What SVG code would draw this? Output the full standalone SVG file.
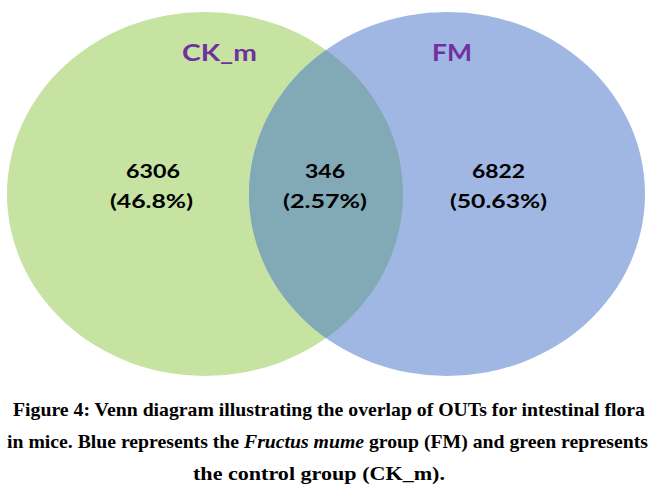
<svg xmlns="http://www.w3.org/2000/svg" width="655" height="491" viewBox="0 0 655 491">
<style>
.lbl{font-family:Lato,"Open Sans","Liberation Sans",sans-serif;font-weight:bold;text-anchor:middle}
.grp{fill:#7030A0;font-size:22px}
.num{fill:#000;font-size:19px}
.cap{font-family:"Liberation Serif","Times New Roman",serif;font-weight:bold;font-size:19.5px;fill:#000}
</style>
<rect width="655" height="491" fill="#fff"/>
<defs>
<clipPath id="clipG"><ellipse cx="205" cy="194" rx="198" ry="182"/></clipPath>
</defs>
<g id="set-ck">
<ellipse cx="205" cy="194" rx="198" ry="182" fill="#C6E3A2"/>
<text class="lbl grp" x="219.5" y="61" textLength="75" lengthAdjust="spacingAndGlyphs">CK_m</text>
</g>
<g id="set-fm">
<ellipse cx="447" cy="194" rx="198" ry="182" fill="#A0B6E3"/>
<text class="lbl grp" x="452" y="61" textLength="40" lengthAdjust="spacingAndGlyphs">FM</text>
</g>
<g id="overlap">
<ellipse cx="447" cy="194" rx="198" ry="182" fill="#82A9B6" clip-path="url(#clipG)"/>
</g>
<g id="counts">
<text class="lbl num" x="153" y="178" textLength="54" lengthAdjust="spacingAndGlyphs">6306</text>
<text class="lbl num" x="151.5" y="208" textLength="83" lengthAdjust="spacingAndGlyphs">(46.8%)</text>
<text class="lbl num" x="325" y="178" textLength="40" lengthAdjust="spacingAndGlyphs">346</text>
<text class="lbl num" x="325" y="208" textLength="84" lengthAdjust="spacingAndGlyphs">(2.57%)</text>
<text class="lbl num" x="498.5" y="178" textLength="53" lengthAdjust="spacingAndGlyphs">6822</text>
<text class="lbl num" x="498.5" y="208" textLength="97" lengthAdjust="spacingAndGlyphs">(50.63%)</text>
</g>
<g id="connectors"/>
<g id="caption">
<text class="cap" x="13" y="416" textLength="632" lengthAdjust="spacingAndGlyphs">Figure 4: Venn diagram illustrating the overlap of OUTs for intestinal flora</text>
<text class="cap" x="7" y="448" textLength="641" lengthAdjust="spacingAndGlyphs">in mice. Blue represents the <tspan font-style="italic">Fructus mume</tspan> group (FM) and green represents</text>
<text class="cap" x="193" y="480" textLength="252" lengthAdjust="spacingAndGlyphs">the control group (CK_m).</text>
</g>
</svg>
